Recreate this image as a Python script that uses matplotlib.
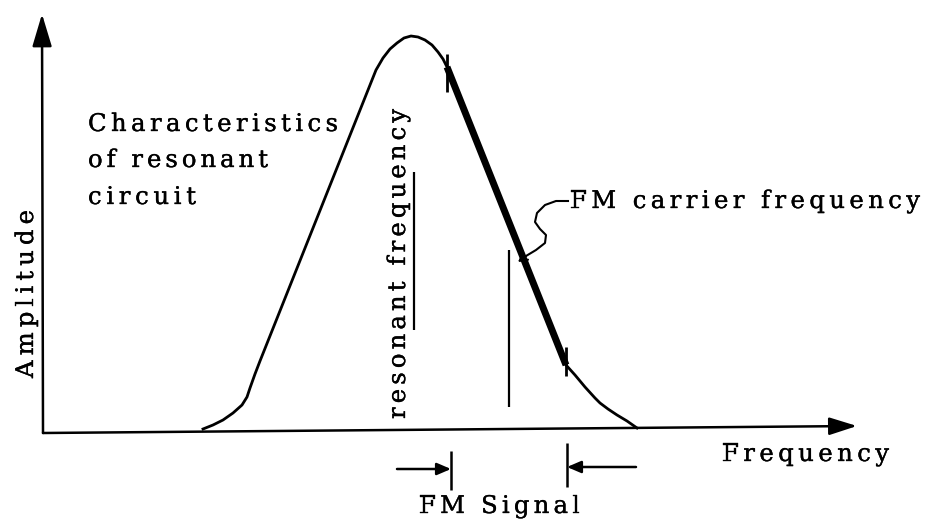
import matplotlib
matplotlib.use('Agg')
import matplotlib.pyplot as plt
import matplotlib.patheffects as pe
from matplotlib.font_manager import FontProperties, findfont, get_font

W, H, DPI = 927, 527, 100
FONT = 'DejaVu Serif'

# resonance curve of the tuned circuit, in pixel space (y grows downward)
rise_x = [203, 213, 223, 233, 242, 247, 250, 255, 260, 372, 376, 383, 390,
          397, 404, 411, 418, 425, 432, 438, 443, 447]
rise_y = [429, 425, 420, 413, 405, 397, 388, 374, 361, 80, 70, 58, 49,
          43, 38, 36, 37, 40, 45, 52, 59, 67]
# linear working part of the slope used by the FM signal
slope_x = [447, 566]
slope_y = [67, 365]
tail_x = [566, 575, 585, 595, 600, 608, 617, 627, 637]
tail_y = [365, 375, 387, 398, 403, 409, 415, 421, 428]

# short ticks bounding the working range
tick_x = [447, 566]
tick_top = [54, 347]
tick_bot = [92, 376]

# carrier marker and the rule beside the "resonant frequency" label
carrier_x, carrier_top, carrier_bot = 509, 250, 407
rule_x, rule_top, rule_bot = 414, 172, 330

# leader from the carrier label down to the slope
curl_x = [568, 556, 545, 537, 535, 540, 546, 545, 536, 526, 518]
curl_y = [201, 201, 205, 213, 222, 229, 235, 243, 250, 256, 262]

# FM signal bracket below the axis
band_left = [397, 451, 469]    # x start, x end, y
band_right = [636, 567, 467]
band_ticks_x = [451, 567]
band_ticks_top = [451, 443]
band_ticks_bot = [490, 487]

# axes: origin, y-arrow tip, x-arrow tip
origin = (43, 433)
y_tip = (42, 14)
x_tip = (857, 426)

labels = [
    # text, x, y, length, vertical
    ('Characteristics', 88, 131, 250, False),
    ('of resonant', 88, 167, 180, False),
    ('circuit', 88, 204, 108, False),
    ('Amplitude', 33, 378, 168, True),
    ('resonant frequency', 405, 419, 310, True),
    ('FM carrier frequency', 570, 208, 350, False),
    ('Frequency', 722, 461, 167, False),
    ('FM Signal', 419, 513, 161, False),
]


def spaced_text(ax, s, x0, y0, length, vertical=False, size=17.5):
    # letter-spaced text: glyphs are laid out one by one so the word spans `length` px
    fp = FontProperties(family=FONT, size=size)
    font = get_font(findfont(fp))
    font.set_size(size, DPI)
    adv = [font.load_char(ord(c)).linearHoriAdvance / 65536 for c in s]
    gap = (length - sum(adv)) / max(len(s) - 1, 1)
    fx = [pe.withStroke(linewidth=0.25, foreground='k')]
    pos = 0.0
    for c, a in zip(s, adv):
        if vertical:
            ax.text(x0, y0 - pos, c, fontproperties=fp, rotation=90,
                    rotation_mode='anchor', ha='left', va='baseline',
                    path_effects=fx)
        else:
            ax.text(x0 + pos, y0, c, fontproperties=fp,
                    ha='left', va='baseline', path_effects=fx)
        pos += a + gap


fig = plt.figure(figsize=(W / DPI, H / DPI), dpi=DPI)
ax = fig.add_axes([0, 0, 1, 1])
ax.set_xlim(0, W)
ax.set_ylim(H, 0)
ax.axis('off')

# axes with filled arrow heads
ax.annotate('', xy=y_tip, xytext=origin,
            arrowprops=dict(arrowstyle='-|>,head_length=1.0,head_width=0.3',
                            mutation_scale=20, lw=1.8, color='k',
                            shrinkA=0, shrinkB=0))
ax.annotate('', xy=x_tip, xytext=origin,
            arrowprops=dict(arrowstyle='-|>,head_length=0.85,head_width=0.27',
                            mutation_scale=20, lw=1.8, color='k',
                            shrinkA=0, shrinkB=0))

ax.plot(rise_x, rise_y, color='k', lw=2.0, solid_joinstyle='round')
ax.plot(slope_x, slope_y, color='k', lw=5.0, solid_capstyle='butt')
ax.plot(tail_x, tail_y, color='k', lw=2.0, solid_joinstyle='round')
ax.vlines(tick_x, tick_top, tick_bot, color='k', lw=2.0)

ax.vlines(carrier_x, carrier_top, carrier_bot, color='k', lw=1.6)
ax.vlines(rule_x, rule_top, rule_bot, color='k', lw=1.6)

ax.plot(curl_x[:-1], curl_y[:-1], color='k', lw=1.5, solid_joinstyle='round')
ax.annotate('', xy=(curl_x[-1], curl_y[-1]), xytext=(curl_x[-2], curl_y[-2]),
            arrowprops=dict(arrowstyle='->,head_length=0.35,head_width=0.2',
                            mutation_scale=15, lw=1.5, color='k',
                            shrinkA=0, shrinkB=0))

for x0, x1, y in (band_left, band_right):
    ax.annotate('', xy=(x1, y), xytext=(x0, y),
                arrowprops=dict(arrowstyle='-|>,head_length=0.7,head_width=0.3',
                                mutation_scale=12, lw=1.8, color='k',
                                shrinkA=0, shrinkB=0))
ax.vlines(band_ticks_x, band_ticks_top, band_ticks_bot, color='k', lw=1.8)

for text, x, y, length, vertical in labels:
    spaced_text(ax, text, x, y, length, vertical)

fig.savefig('out.png', dpi=DPI, facecolor='white')
